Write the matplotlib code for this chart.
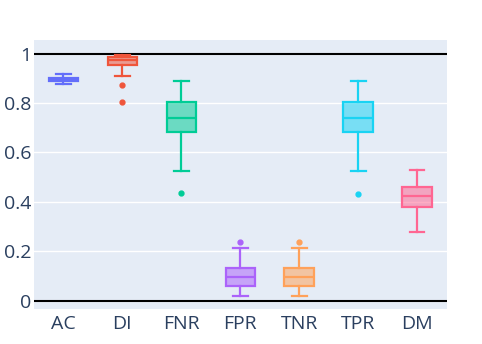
import matplotlib
matplotlib.use("Agg")
import matplotlib.pyplot as plt

plt.rcParams['font.family'] = ['Open Sans', 'DejaVu Sans']

labels = ['AC', 'DI', 'FNR', 'FPR', 'TNR', 'TPR', 'DM']
colors = ['#636efa', '#EF553B', '#00cc96', '#ab63fa', '#FFA15A', '#19d3f3', '#FF6692']
whislo = [0.876, 0.911, 0.524, 0.020, 0.020, 0.524, 0.279]
q1 = [0.888, 0.954, 0.681, 0.059, 0.059, 0.681, 0.381]
med = [0.897, 0.976, 0.739, 0.096, 0.096, 0.739, 0.426]
q3 = [0.903, 0.987, 0.805, 0.131, 0.131, 0.805, 0.460]
whishi = [0.918, 0.996, 0.891, 0.215, 0.215, 0.891, 0.528]
fliers = [[], [0.874, 0.803], [0.435], [0.236], [0.236], [0.434], []]

fig = plt.figure(figsize=(4.82, 3.44), dpi=100)
ax = fig.add_axes([0.0705, 0.101, 0.856, 0.782])
ax.set_facecolor('#E5ECF6')

for i in range(len(labels)):
    st = dict(whislo=whislo[i], q1=q1[i], med=med[i], q3=q3[i], whishi=whishi[i], fliers=fliers[i])
    c = colors[i]
    ax.bxp([st], positions=[i], widths=0.5, patch_artist=True, showfliers=True,
           boxprops=dict(facecolor=c + '88', edgecolor=c, linewidth=1.6),
           medianprops=dict(color=c, linewidth=1.6),
           whiskerprops=dict(color=c, linewidth=1.6),
           capprops=dict(color=c, linewidth=1.6),
           capwidths=0.25,
           flierprops=dict(marker='o', markerfacecolor=c, markeredgecolor=c, markersize=3.5))

ax.axhline(0, color='black', linewidth=1.5, zorder=1)
ax.axhline(1, color='black', linewidth=1.5, zorder=1)

ax.set_xlim(-0.5, 6.5)
ax.set_ylim(-0.034, 1.054)
ax.set_yticks([0, 0.2, 0.4, 0.6, 0.8, 1])
ax.set_yticklabels(['0', '0.2', '0.4', '0.6', '0.8', '1'])
ax.set_xticks(range(len(labels)))
ax.set_xticklabels(labels)
ax.grid(axis='y', color='white', linewidth=1)
ax.set_axisbelow(True)
ax.tick_params(length=0, labelsize=14, colors='#2a3f5f')
ax.tick_params(axis='x', pad=4)
ax.tick_params(axis='y', pad=2)
for s in ax.spines.values():
    s.set_visible(False)

fig.savefig('out.png', dpi=100)
